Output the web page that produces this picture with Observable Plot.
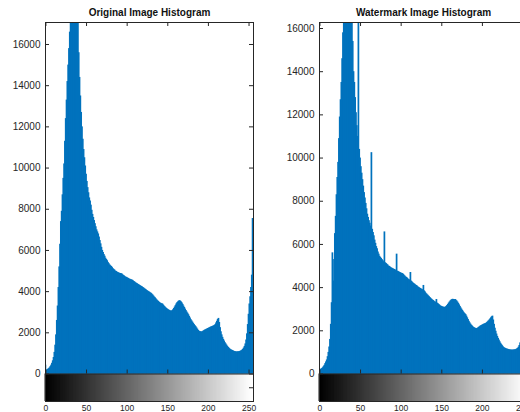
<!DOCTYPE html>
<html>
<head>
<meta charset="utf-8">
<script src="https://cdn.jsdelivr.net/npm/d3@7"></script>
<script src="https://cdn.jsdelivr.net/npm/@observablehq/plot@0.6"></script>
<style>
  html, body { margin: 0; padding: 0; background: #fff; }
  #wrap { position: relative; width: 520px; height: 412px; overflow: hidden; background: #fff; }
  #wrap > svg, #wrap > figure { position: absolute; top: 0; margin: 0; }
</style>
</head>
<body>
<div id="wrap"></div>
<script>
// ---- data (gray level 0..255 pixel counts) ----
const titles = ["Original Image Histogram", "Watermark Image Histogram"];
const xTicks = [0, 50, 100, 150, 200, 250];
const yTicks = [0, 2000, 4000, 6000, 8000, 10000, 12000, 14000, 16000];

const origCounts = [
  430, 180, 200, 230, 260, 300, 360, 430, 520, 640,
  800, 1050, 1400, 1900, 2600, 3300, 4200, 5200, 6300, 7400,
  7900, 8700, 9500, 10200, 11300, 12400, 13300, 14200, 15000, 15800,
  16600, 17800, 18600, 19400, 20000, 20500, 20200, 19600, 18900, 18100,
  17300, 15600, 14400, 13500, 12700, 12000, 11400, 10900, 10500, 10100,
  9700, 9350, 9050, 8800, 8550, 8400, 8200, 7950, 7750, 7600,
  7450, 7300, 7150, 7000, 6900, 6800, 6650, 6480, 6320, 6150,
  6000, 5900, 5800, 5720, 5620, 5560, 5500, 5420, 5360, 5300,
  5260, 5220, 5180, 5120, 5080, 5050, 5000, 4980, 4950, 4930,
  4910, 4890, 4880, 4870, 4860, 4820, 4780, 4760, 4720, 4700,
  4690, 4660, 4640, 4610, 4600, 4580, 4570, 4550, 4520, 4490,
  4460, 4430, 4400, 4380, 4350, 4330, 4300, 4280, 4250, 4230,
  4200, 4170, 4140, 4110, 4080, 4050, 4020, 4000, 3970, 3940,
  3920, 3880, 3840, 3790, 3740, 3700, 3650, 3600, 3560, 3520,
  3480, 3450, 3430, 3410, 3400, 3350, 3300, 3260, 3220, 3180,
  3150, 3120, 3100, 3080, 3060, 3050, 3080, 3120, 3180, 3250,
  3320, 3400, 3460, 3500, 3540, 3560, 3540, 3500, 3450, 3380,
  3300, 3230, 3150, 3080, 3010, 2950, 2880, 2800, 2720, 2640,
  2580, 2520, 2460, 2400, 2350, 2300, 2240, 2180, 2120, 2080,
  2060, 2050, 2040, 2050, 2080, 2100, 2130, 2150, 2170, 2190,
  2210, 2230, 2250, 2270, 2290, 2300, 2320, 2340, 2360, 2400,
  2480, 2560, 2650, 2700, 2500, 2250, 2050, 1900, 1780, 1680,
  1600, 1520, 1460, 1400, 1340, 1290, 1250, 1210, 1180, 1160,
  1140, 1120, 1100, 1090, 1080, 1070, 1070, 1080, 1080, 1090,
  1110, 1130, 1160, 1200, 1260, 1340, 1460, 1650, 1950, 2400,
  2900, 3400, 3750, 4200, 4800, 7550
];

const wmCounts = [
  250, 200, 220, 250, 290, 340, 400, 480, 560, 650,
  800, 1000, 1250, 1600, 2300, 3300, 5610, 4300, 5300, 6500,
  7300, 8300, 9100, 9800, 10900, 11900, 12700, 13500, 14600, 15800,
  16600, 17500, 18300, 19000, 19600, 20000, 19800, 19300, 18600, 17800,
  17000, 15400, 14000, 13500, 12800, 12100, 11500, 11000, 17000, 10400,
  10000, 9600, 9300, 9000, 8700, 8400, 8150, 7900, 7650, 7400,
  7250, 7100, 6980, 6850, 10250, 6700, 6550, 6400, 6200, 6050,
  5900, 5800, 5650, 5550, 5450, 5400, 5350, 5300, 5250, 5200,
  6580, 5150, 5120, 5080, 5050, 5000, 4980, 4950, 4920, 4900,
  4880, 4860, 4840, 4820, 4800, 5550, 4760, 4740, 4720, 4700,
  4680, 4660, 4650, 4620, 4580, 4540, 4500, 4470, 4440, 4400,
  4370, 4350, 4700, 4300, 4260, 4220, 4190, 4160, 4130, 4100,
  4080, 4040, 4010, 3990, 3960, 3940, 3920, 3900, 4100, 3850,
  3800, 3740, 3700, 3660, 3620, 3580, 3540, 3500, 3460, 3430,
  3400, 3370, 3340, 3320, 3450, 3280, 3250, 3220, 3180, 3150,
  3130, 3110, 3100, 3090, 3080, 3100, 3130, 3170, 3220, 3280,
  3330, 3380, 3420, 3440, 3460, 3450, 3440, 3450, 3420, 3380,
  3330, 3270, 3200, 3130, 3060, 3000, 2940, 2880, 2830, 2790,
  2750, 2680, 2600, 2520, 2440, 2370, 2310, 2260, 2220, 2180,
  2150, 2130, 2110, 2100, 2110, 2130, 2160, 2190, 2220, 2240,
  2260, 2280, 2300, 2320, 2330, 2350, 2380, 2420, 2460, 2500,
  2550, 2600, 2650, 2680, 2500, 2300, 2120, 1980, 1850, 1740,
  1650, 1570, 1490, 1420, 1360, 1310, 1260, 1220, 1200, 1180,
  1160, 1150, 1140, 1130, 1120, 1110, 1110, 1100, 1110, 1110,
  1120, 1120, 1140, 1160, 1190, 1240, 1320, 1440, 1640, 1950,
  2400, 2900, 3400, 3900, 4500, 7300
];

// y-axis upper limits of the two panels (counts)
const yMax = [17068, 16278];
// depth of the grey-level strip below zero, in counts of each panel's scale
const stripDepth = [1335, 1274];

// ---- drawing ----
const W = 260, H = 412, mL = 45, mR = 7, mT = 22, mB = 11;
const innerW = W - mL - mR, innerH = H - mT - mB;
const stripPx = 27.5, histPx = innerH - stripPx;
const blue = "#0072BD", ink = "#262626";
const levels = d3.range(256);

function panel(counts, title, ymax, depth) {
  const data = counts.map((c, v) => ({v, c}));
  return Plot.plot({
    width: W, height: H,
    marginLeft: mL, marginRight: mR, marginTop: mT, marginBottom: mB,
    style: {fontFamily: "'Liberation Sans', Arial, sans-serif", background: "transparent", overflow: "visible", color: ink},
    x: {domain: [-0.5, 255.5]},
    y: {domain: [-depth, ymax]},
    marks: [
      // grey-level strip
      Plot.rect(levels, {x1: d => d - 0.5, x2: d => d + 0.5, y1: -depth, y2: 0,
        fill: d => `rgb(${d},${d},${d})`, insetLeft: -0.45, insetRight: -0.45}),
      // histogram bars
      Plot.rectY(data, {x1: d => d.v - 0.5, x2: d => d.v + 0.5, y1: 0, y2: "c",
        fill: blue, insetLeft: -0.45, insetRight: -0.45, clip: true}),
      Plot.ruleY([0], {stroke: ink}),
      Plot.frame({stroke: ink}),
      // inward ticks
      Plot.tickX(xTicks, {x: d => d, insetBottom: innerH - 4, stroke: ink}),
      Plot.tickX(xTicks, {x: d => d, insetTop: histPx - 4, insetBottom: stripPx, stroke: ink}),
      Plot.tickY(yTicks, {y: d => d, insetRight: innerW - 4, stroke: ink}),
      Plot.tickY(yTicks, {y: d => d, insetLeft: innerW - 4, stroke: ink}),
      Plot.tickY([-depth / 2], {y: d => d, insetLeft: innerW - 4, stroke: ink}),
      // axes labels
      Plot.axisX(xTicks, {anchor: "bottom", tickSize: 0, tickPadding: 3, fontSize: 8.5,
        tickFormat: d => `${d}`, label: null, fill: ink}),
      Plot.axisY(yTicks, {anchor: "left", tickSize: 0, tickPadding: 5, fontSize: 10,
        tickFormat: d => `${d}`, label: null, fill: ink}),
      // title
      Plot.text([title], {frameAnchor: "top", lineAnchor: "middle", dy: -9.5,
        fontSize: 10, fontWeight: "bold", fill: "#111"})
    ]
  });
}

const wrap = document.getElementById("wrap");
const left = panel(origCounts, titles[0], yMax[0], stripDepth[0]);
left.style.left = "0px";
wrap.appendChild(left);
const right = panel(wmCounts, titles[1], yMax[1], stripDepth[1]);
right.style.left = "274px";
wrap.appendChild(right);
</script>
</body>
</html>
